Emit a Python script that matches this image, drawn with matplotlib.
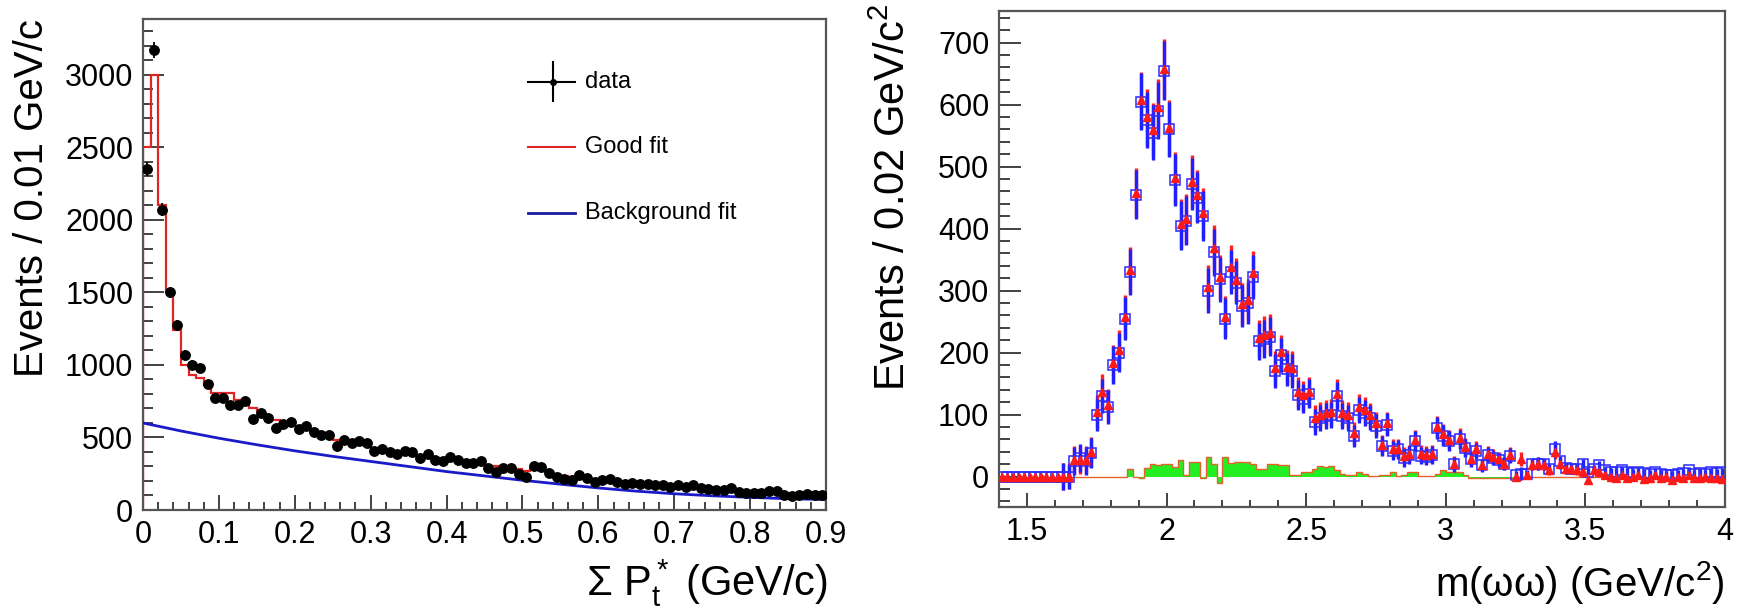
import numpy as np
import matplotlib
matplotlib.use("Agg")
import matplotlib.pyplot as plt
from matplotlib.ticker import MultipleLocator, FormatStrFormatter

plt.rcParams['font.family'] = ['Liberation Sans', 'DejaVu Sans']
plt.rcParams['mathtext.fontset'] = 'custom'
plt.rcParams['mathtext.rm'] = 'Liberation Sans'
plt.rcParams['mathtext.it'] = 'Liberation Sans'
plt.rcParams['mathtext.bf'] = 'Liberation Sans:bold'

# ---------------- Left panel: sum Pt* ----------------
pt_bin_width = 0.01
pt_counts = [2350, 3170, 2070, 1500, 1276, 1069, 1000, 977, 869, 770,
             770, 724, 724, 754, 625, 667, 637, 568, 591, 605,
             556, 582, 540, 517, 517, 444, 483, 464, 476, 464,
             409, 421, 402, 386, 409, 402, 356, 386, 345, 338,
             368, 345, 326, 326, 335, 287, 264, 287, 287, 248,
             230, 303, 294, 257, 225, 212, 207, 241, 218, 195,
             207, 212, 190, 178, 186, 176, 182, 170, 172, 161,
             172, 156, 172, 149, 142, 138, 138, 149, 126, 119,
             119, 115, 128, 128, 100, 94, 100, 110, 100, 105]
pt_errors = [48, 56, 45, 39, 36, 33, 32, 31, 29, 28,
             28, 27, 27, 27, 25, 26, 25, 24, 24, 25,
             24, 24, 23, 23, 23, 21, 22, 22, 22, 22,
             20, 21, 20, 20, 20, 20, 19, 20, 19, 18,
             19, 19, 18, 18, 18, 17, 16, 17, 17, 16,
             15, 17, 17, 16, 15, 15, 14, 16, 15, 14,
             14, 15, 14, 13, 14, 13, 13, 13, 13, 13,
             13, 12, 13, 12, 12, 12, 12, 12, 11, 11,
             11, 11, 12, 12, 10, 10, 10, 11, 10, 10]
pt_good_fit = [2500, 3000, 2100, 1500, 1240, 1000, 930, 910, 860, 810,
               810, 810, 760, 760, 700, 680, 650, 620, 610, 600,
               580, 560, 545, 530, 510, 480, 480, 470, 460, 450,
               430, 420, 410, 400, 395, 390, 380, 370, 360, 350,
               345, 340, 330, 320, 310, 300, 300, 290, 285, 280,
               270, 280, 275, 265, 245, 235, 225, 220, 215, 210,
               205, 200, 195, 190, 185, 180, 178, 175, 170, 165,
               160, 158, 155, 150, 146, 142, 138, 135, 130, 125,
               122, 118, 115, 112, 108, 105, 102, 100, 98, 95]
bkg_x = [0.0, 0.05, 0.1, 0.15, 0.2, 0.25, 0.3, 0.35, 0.4, 0.45,
         0.5, 0.55, 0.6, 0.65, 0.7, 0.75, 0.8, 0.85, 0.9]
bkg_y = [600, 545, 495, 450, 408, 370, 335, 300, 265, 235,
         205, 178, 152, 130, 112, 98, 87, 78, 72]

# ---------------- Right panel: m(omega omega) ----------------
m_lo = 1.4
m_bin_width = 0.02
m_red = [0, 0, 0, 0, 0, 0, 0, 0, 0, 0,
         0, 0, 0, 27, 27, 27, 40, 105, 137, 115,
         183, 204, 258, 333, 458, 607, 580, 559, 596, 658,
         562, 481, 408, 416, 476, 454, 425, 306, 368, 322,
         258, 338, 317, 279, 285, 328, 223, 228, 231, 175,
         201, 177, 175, 137, 131, 137, 94, 99, 102, 105,
         134, 102, 99, 70, 113, 107, 99, 86, 51, 86,
         45, 45, 34, 37, 59, 37, 35, 37, 80, 68,
         59, 21, 62, 48, 29, 44, 19, 37, 32, 28,
         21, 35, 0, 28, 3, 19, 21, 19, 10, 40,
         21, 12, 12, 10, 8, -5, 10, 8, 2, 0,
         -3, 2, -2, 0, 3, -4, -3, 2, -3, 0,
         -5, 0, -2, 3, -3, -2, 0, -3, -2, -4]
m_blue = [0, 0, 0, 0, 0, 0, 0, 0, 0, 0,
          0, 0, 0, 25, 30, 25, 38, 100, 130, 112,
          180, 200, 255, 330, 455, 605, 575, 555, 590, 655,
          560, 478, 405, 413, 472, 450, 420, 300, 362, 318,
          255, 330, 313, 275, 280, 322, 218, 222, 226, 170,
          196, 173, 170, 132, 126, 134, 88, 95, 98, 100,
          130, 98, 95, 66, 108, 102, 95, 82, 50, 84,
          42, 44, 30, 35, 57, 34, 32, 35, 78, 66,
          57, 20, 60, 46, 28, 42, 18, 35, 30, 27,
          20, 34, 3, 5, 5, 20, 21, 20, 12, 45,
          25, 14, 12, 12, 21, 8, 12, 19, 10, 8,
          8, 10, 8, 6, 8, 6, 5, 8, 4, 3,
          3, 4, 6, 10, 4, 6, 4, 8, 6, 8]
m_err = [3, 3, 3, 3, 3, 3, 3, 3, 3, 3,
         3, 22, 20, 22, 22, 22, 24, 26, 28, 27,
         30, 32, 35, 37, 40, 46, 45, 44, 46, 48,
         45, 42, 40, 40, 42, 41, 40, 36, 38, 36,
         33, 36, 35, 34, 34, 36, 30, 31, 31, 27,
         28, 27, 27, 24, 24, 24, 21, 21, 21, 21,
         23, 21, 21, 18, 21, 21, 20, 19, 16, 19,
         15, 15, 14, 14, 16, 14, 14, 14, 18, 17,
         16, 12, 16, 14, 12, 13, 10, 12, 12, 11,
         10, 12, 6, 11, 6, 9, 10, 9, 8, 12,
         9, 8, 8, 8, 8, 6, 7, 7, 6, 6,
         6, 6, 6, 6, 6, 6, 6, 6, 6, 6,
         6, 6, 6, 6, 6, 6, 6, 6, 6, 6]
m_green = [0, 0, 0, 0, 0, 0, 0, 0, 0, 0,
           0, 0, 0, 0, 0, 0, 0, 0, 0, 0,
           0, 0, 0, 13, 0, -2, 14, 21, 18, 20,
           20, 15, 27, 3, 24, 24, -3, 31, 21, -10,
           31, 22, 24, 24, 24, 21, 12, 13, 20, 20,
           18, 18, 3, 3, 8, 8, 13, 17, 15, 17,
           10, 5, 3, 3, 8, 4, 1, 1, 2, 2,
           7, 1, 2, 8, 8, 1, 1, 1, 5, 10,
           8, 8, 8, 2, -2, -2, -2, -3, -3, -2,
           -2, -2, 0, 0, 0, 0, 0, 0, 0, 0,
           0, 0, 0, 0, 0, 0, 0, 0, 0, 0,
           0, 0, 0, 0, 0, 0, 0, 0, 0, 0,
           0, 0, 0, 0, 0, 0, 0, 0, 0, 0]

W, H = 1739, 611
fig = plt.figure(figsize=(W / 100, H / 100), dpi=100)
ax1 = fig.add_axes([143 / W, 1 - 510 / H, (826 - 143) / W, (510 - 19) / H])
ax2 = fig.add_axes([999 / W, 1 - 507 / H, (1725 - 999) / W, (507 - 11) / H])

spine_col = '#555555'
tick_fs = 22

def style(ax, ylen, xlen):
    for s in ax.spines.values():
        s.set_color(spine_col)
        s.set_linewidth(1.6)
    ax.tick_params(axis='both', which='both', direction='in', color='#333333',
                   top=False, right=False, labelsize=tick_fs, pad=7, width=1.3)
    ax.tick_params(axis='y', which='major', length=ylen)
    ax.tick_params(axis='y', which='minor', length=ylen * 0.5)
    ax.tick_params(axis='x', which='major', length=xlen)
    ax.tick_params(axis='x', which='minor', length=xlen * 0.5)

# ---- left ----
n_pt = len(pt_counts)
pt_edges = np.arange(n_pt + 1) * pt_bin_width
pt_centers = (pt_edges[:-1] + pt_edges[1:]) / 2
ax1.stairs(pt_good_fit, pt_edges, color='#e02525', lw=1.6, zorder=2)
ax1.plot(bkg_x, bkg_y, color='#1a1ac8', lw=2.0, zorder=3)
ax1.errorbar(pt_centers, pt_counts, yerr=pt_errors, fmt='o', color='black',
             ms=6.8, elinewidth=1.3, capsize=0, zorder=4)
ax1.set_xlim(0, 0.9)
ax1.set_ylim(0, 3386)
ax1.xaxis.set_major_locator(MultipleLocator(0.1))
ax1.xaxis.set_minor_locator(MultipleLocator(0.02))
ax1.yaxis.set_major_locator(MultipleLocator(500))
ax1.yaxis.set_minor_locator(MultipleLocator(100))
ax1.xaxis.set_major_formatter(FormatStrFormatter('%g'))
style(ax1, 15, 11)
ax1.text(-0.163, 1.0, 'Events / 0.01 GeV/c', rotation=90, ha='center', va='top',
         fontsize=29, transform=ax1.transAxes)
ax1.text(1.003, -0.149, r'Σ $\mathregular{P_t^*}$ (GeV/c)', ha='right', va='center',
         fontsize=30, transform=ax1.transAxes)

# legend (manual, ROOT style)
lx0, lx1, lxm, ltx = 0.564, 0.633, 0.601, 0.647
ly = [0.872, 0.739, 0.604]
ax1.plot([lx0, lx1], [ly[0], ly[0]], color='black', lw=1.5, transform=ax1.transAxes)
ax1.plot([lxm, lxm], [ly[0] - 0.04, ly[0] + 0.04], color='black', lw=1.5, transform=ax1.transAxes)
ax1.plot([lxm], [ly[0]], 'o', color='black', ms=4, transform=ax1.transAxes)
ax1.plot([lx0, lx1], [ly[1], ly[1]], color='#e02525', lw=1.5, transform=ax1.transAxes)
ax1.plot([lx0, lx1], [ly[2], ly[2]], color='#1a1aa0', lw=2.0, transform=ax1.transAxes)
for yy, t in zip(ly, ['data', 'Good fit', 'Background fit']):
    ax1.text(ltx, yy, t, fontsize=17, va='center', ha='left', transform=ax1.transAxes)

# ---- right ----
n_m = len(m_red)
m_edges = m_lo + np.arange(n_m + 1) * m_bin_width
m_centers = (m_edges[:-1] + m_edges[1:]) / 2
ax2.stairs(m_green, m_edges, fill=True, color='#22ee22', zorder=1, baseline=0)
ax2.stairs(m_green, m_edges, color='#e8602a', lw=1.0, zorder=1.5, baseline=None)
ax2.errorbar(m_centers, m_red, yerr=m_err, fmt='none', ecolor='#ff2020',
             elinewidth=2.4, capsize=0, zorder=2)
ax2.errorbar(m_centers, m_blue, yerr=m_err, fmt='none', ecolor='#1f1fff',
             elinewidth=2.4, capsize=0, zorder=3)
ax2.plot(m_centers, m_blue, 's', mfc='none', mec='#2a2aff', ms=7.5, mew=1.1, zorder=4)
ax2.plot(m_centers, m_red, '^', color='#ff1a1a', ms=5.2, zorder=5)
ax2.set_xlim(1.4, 4.0)
ax2.set_ylim(-49, 751)
ax2.xaxis.set_major_locator(MultipleLocator(0.5))
ax2.xaxis.set_minor_locator(MultipleLocator(0.1))
ax2.yaxis.set_major_locator(MultipleLocator(100))
ax2.yaxis.set_minor_locator(MultipleLocator(20))
ax2.xaxis.set_major_formatter(FormatStrFormatter('%g'))
style(ax2, 16, 10)
ax2.text(-0.145, 1.014, r'Events / 0.02 GeV/c$^{2}$', rotation=90, ha='center', va='top',
         fontsize=30, transform=ax2.transAxes)
ax2.text(1.0, -0.153, r'm(ωω) (GeV/c$^{2}$)', ha='right', va='center',
         fontsize=29, transform=ax2.transAxes)

fig.savefig('out.png', dpi=100)
